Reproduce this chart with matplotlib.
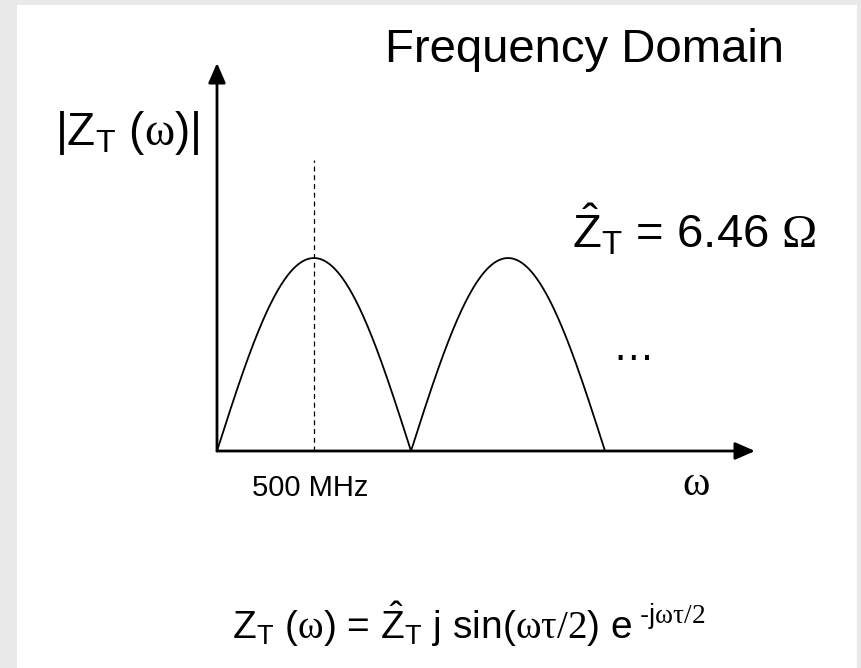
import matplotlib
matplotlib.use("Agg")
import matplotlib.pyplot as plt
from matplotlib.patches import Rectangle
import numpy as np

# transfer impedance parameters
z_hat = 6.46          # peak |Z_T| in ohms
f_peak = 500.0        # MHz, first maximum of the sine arch
f_end = 2000.0        # MHz, range drawn (two arches)
f_max = 2773.0        # MHz, length of the frequency axis
z_max = 12.99         # top of the impedance axis
dash_top = 9.75       # height of the dashed marker at f_peak
peak_label = "500 MHz"

W, H = 861, 668
plt.rcParams["font.family"] = ["Liberation Sans", "DejaVu Sans"]
plt.rcParams["mathtext.fontset"] = "custom"
plt.rcParams["mathtext.rm"] = "Liberation Sans"
plt.rcParams["mathtext.it"] = "Liberation Sans"
plt.rcParams["mathtext.cal"] = "Liberation Serif"
plt.rcParams["mathtext.default"] = "rm"

fig = plt.figure(figsize=(W / 100, H / 100), dpi=100, facecolor="#e9e9e9")
fig.add_artist(Rectangle((17 / W, 0), (857 - 17) / W, (H - 5) / H,
                         transform=fig.transFigure, facecolor="white",
                         edgecolor="none", zorder=0))


def px(x, y):
    return x / W, 1 - y / H


# axes box spans the arrow lengths
x0, y0 = px(217, 451)
x1, y1 = px(755, 63)
ax = fig.add_axes([x0, y0, x1 - x0, y1 - y0])
ax.set_xlim(0, f_max)
ax.set_ylim(0, z_max)
ax.axis("off")

f = np.linspace(0, f_end, 600)
z = z_hat * np.abs(np.sin(np.pi * f / (2 * f_peak)))
ax.plot(f, z, color="black", lw=1.3, clip_on=False)
ax.vlines(f_peak, 0, dash_top, colors="black", linestyles=(0, (4, 3)), lw=0.9)

arrow = dict(arrowstyle="-|>,head_length=0.8,head_width=0.35", color="black",
             lw=2.0, shrinkA=0, shrinkB=0, mutation_scale=15)
ax.annotate("", xy=(1, 0), xytext=(0, 0), xycoords="axes fraction", arrowprops=arrow)
ax.annotate("", xy=(0, 1), xytext=(0, 0), xycoords="axes fraction", arrowprops=arrow)

fig.text(*px(385, 62), "Frequency Domain", fontsize=34, va="baseline", ha="left")
fig.text(*px(55, 145), r"$|Z_T\ (\mathcal{\omega})|$", fontsize=33, va="baseline", ha="left")
fig.text(*px(572, 247), r"$\hat{Z}_T$ = 6.46 $\mathcal{\Omega}$", fontsize=34,
         va="baseline", ha="left")
fig.text(*px(612, 360), "\u2026", fontsize=30, va="baseline", ha="left")
fig.text(*px(252, 496), peak_label, fontsize=21, va="baseline", ha="left")
fig.text(*px(682, 495), r"$\mathcal{\omega}$", fontsize=30, va="baseline", ha="left")
fig.text(*px(232, 639),
         r"$Z_T\ (\mathcal{\omega})$ = $\hat{Z}_T$ j sin($\mathcal{\omega\tau/2}$) e$^{\ \text{-j}\mathcal{\omega\tau/2}}$",
         fontsize=28, va="baseline", ha="left")

fig.savefig("out.png", dpi=100, facecolor=fig.get_facecolor())
